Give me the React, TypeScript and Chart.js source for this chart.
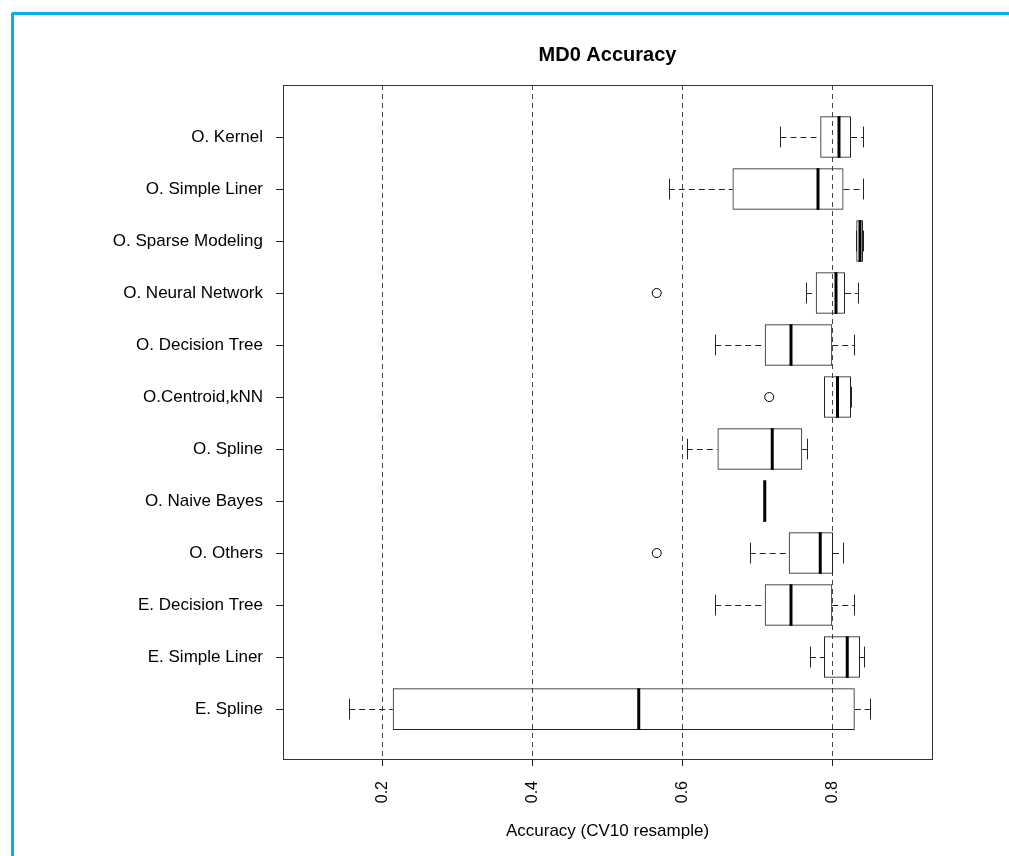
import React, { useEffect, useRef } from "react";
import { Chart, registerables } from "chart.js";

Chart.register(...registerables);

// ---- data ----
const chartTitle = "MD0 Accuracy";
const axisTitle = "Accuracy (CV10 resample)";
const categories = [
  "O. Kernel",
  "O. Simple Liner",
  "O. Sparse Modeling",
  "O. Neural Network",
  "O. Decision Tree",
  "O.Centroid,kNN",
  "O. Spline",
  "O. Naive Bayes",
  "O. Others",
  "E. Decision Tree",
  "E. Simple Liner",
  "E. Spline",
];
const whiskerLow = [0.730, 0.581, 0.831, 0.764, 0.643, 0.788, 0.605, 0.709, 0.689, 0.643, 0.769, 0.155];
const q1 = [0.783, 0.666, 0.831, 0.777, 0.709, 0.788, 0.646, 0.709, 0.741, 0.709, 0.788, 0.213];
const medians = [0.808, 0.780, 0.836, 0.804, 0.744, 0.806, 0.719, 0.709, 0.783, 0.744, 0.819, 0.541];
const q3 = [0.824, 0.814, 0.840, 0.816, 0.799, 0.824, 0.759, 0.709, 0.800, 0.799, 0.836, 0.829];
const whiskerHigh = [0.840, 0.840, 0.840, 0.833, 0.828, 0.824, 0.766, 0.709, 0.813, 0.828, 0.842, 0.849];
const outlierCategories = ["O. Neural Network", "O.Centroid,kNN", "O. Others"];
const outlierValues = [0.565, 0.715, 0.565];
const xTicks = [0.2, 0.4, 0.6, 0.8];
const xMin = 0.0667;
const xMax = 0.932;

const FONT = "'Liberation Sans', Arial, Helvetica, sans-serif";

export default function App() {
  const ref = useRef<HTMLCanvasElement>(null);

  useEffect(() => {
    const n = categories.length;
    const posOf = (i: number) => n - i;

    const boxData = categories.map((_, i) => ({ x: [q1[i], q3[i]], y: posOf(i) }));
    const outlierData = outlierCategories.map((c, k) => ({
      x: outlierValues[k],
      y: posOf(categories.indexOf(c)),
    }));

    const boxPlugin = {
      id: "boxWhiskers",
      beforeDatasetsDraw(chart: any) {
        const { ctx, chartArea } = chart;
        ctx.save();
        ctx.strokeStyle = "#333";
        ctx.lineWidth = 1;
        ctx.setLineDash([]);
        ctx.strokeRect(
          Math.round(chartArea.left) + 0.5,
          Math.round(chartArea.top) + 0.5,
          Math.round(chartArea.right - chartArea.left),
          Math.round(chartArea.bottom - chartArea.top)
        );
        ctx.restore();
      },
      afterDatasetsDraw(chart: any) {
        const { ctx } = chart;
        const xs = chart.scales.x;
        const ys = chart.scales.y;
        ctx.save();
        categories.forEach((_, i) => {
          const p = posOf(i);
          const yc = Math.round(ys.getPixelForValue(p)) + 0.5;
          const xLo = xs.getPixelForValue(whiskerLow[i]);
          const xQ1 = xs.getPixelForValue(q1[i]);
          const xQ3 = xs.getPixelForValue(q3[i]);
          const xHi = xs.getPixelForValue(whiskerHigh[i]);
          const capT = ys.getPixelForValue(p + 0.2);
          const capB = ys.getPixelForValue(p - 0.2);
          // dashed whiskers
          ctx.strokeStyle = "#222";
          ctx.lineWidth = 1;
          ctx.setLineDash([6, 4]);
          ctx.beginPath();
          if (xQ1 - xLo > 1) {
            ctx.moveTo(xLo, yc);
            ctx.lineTo(xQ1, yc);
          }
          if (xHi - xQ3 > 1) {
            ctx.moveTo(xQ3, yc);
            ctx.lineTo(xHi, yc);
          }
          ctx.stroke();
          // caps
          ctx.setLineDash([]);
          ctx.beginPath();
          const cl = Math.round(xLo) + 0.5;
          const ch = Math.round(xHi) + 0.5;
          ctx.moveTo(cl, capT);
          ctx.lineTo(cl, capB);
          ctx.moveTo(ch, capT);
          ctx.lineTo(ch, capB);
          ctx.stroke();
          // median
          const xm = xs.getPixelForValue(medians[i]);
          ctx.strokeStyle = "#000";
          ctx.lineWidth = 3;
          ctx.lineCap = "butt";
          ctx.beginPath();
          ctx.moveTo(xm, ys.getPixelForValue(p + 0.4));
          ctx.lineTo(xm, ys.getPixelForValue(p - 0.4));
          ctx.stroke();
        });
        ctx.restore();
      },
    };

    const chart = new Chart(ref.current as HTMLCanvasElement, {
      type: "bar",
      data: {
        datasets: [
          {
            type: "bar",
            indexAxis: "y",
            data: boxData as any,
            backgroundColor: "rgba(0,0,0,0)",
            borderColor: "#222",
            borderWidth: 1,
            borderSkipped: false,
            barPercentage: 0.8,
            categoryPercentage: 1,
            xAxisID: "x",
            yAxisID: "y",
          } as any,
          {
            type: "scatter",
            data: outlierData as any,
            pointStyle: "circle",
            pointRadius: 4.5,
            pointBorderWidth: 1,
            pointBorderColor: "#000",
            pointBackgroundColor: "#fff",
            xAxisID: "x",
            yAxisID: "y",
          } as any,
        ],
      },
      options: {
        responsive: false,
        animation: false,
        devicePixelRatio: 1,
        events: [],
        layout: { padding: { left: 0, right: 77, top: 0, bottom: 0 } },
        plugins: {
          legend: { display: false },
          tooltip: { enabled: false },
          title: {
            display: true,
            fullSize: false,
            text: chartTitle,
            color: "#000",
            font: { family: FONT, size: 20, weight: "bold", lineHeight: 1.2 },
            padding: { top: 43, bottom: 18 },
          },
        },
        scales: {
          x: {
            type: "linear",
            axis: "x",
            position: "bottom",
            offset: false,
            min: xMin,
            max: xMax,
            afterBuildTicks: (s: any) => {
              s.ticks = xTicks.map((v) => ({ value: v }));
            },
            afterFit: (s: any) => {
              s.height = 97;
            },
            ticks: {
              autoSkip: false,
              minRotation: 90,
              maxRotation: 90,
              padding: 15,
              color: "#000",
              font: { family: FONT, size: 16 },
              callback: (v: any) => Number(v).toFixed(1),
            },
            grid: {
              display: true,
              offset: false,
              drawOnChartArea: true,
              drawTicks: true,
              tickLength: 7,
              color: "#444",
              lineWidth: 1,
              tickColor: "#222",
              tickWidth: 1,
            },
            border: { display: false, dash: [5, 4] },
            title: {
              display: true,
              text: axisTitle,
              color: "#000",
              font: { family: FONT, size: 17, lineHeight: 1.2 },
              padding: { top: 14, bottom: 14 },
            },
          } as any,
          y: {
            type: "linear",
            axis: "y",
            position: "left",
            offset: false,
            min: 0.04,
            max: categories.length + 1,
            afterBuildTicks: (s: any) => {
              s.ticks = categories.map((_, i) => ({ value: categories.length - i }));
            },
            afterFit: (s: any) => {
              s.width = 283;
            },
            ticks: {
              autoSkip: false,
              padding: 13,
              color: "#000",
              font: { family: FONT, size: 17 },
              callback: (v: any) => categories[categories.length - Number(v)] ?? "",
            },
            grid: {
              display: true,
              offset: false,
              drawOnChartArea: false,
              drawTicks: true,
              tickLength: 7,
              tickColor: "#222",
              tickWidth: 1,
            },
            border: { display: false },
          } as any,
        },
      },
      plugins: [boxPlugin],
    });
    return () => chart.destroy();
  }, []);

  return (
    <div
      style={{
        position: "absolute",
        left: 0,
        top: 0,
        width: 1009,
        height: 856,
        background: "#fff",
        overflow: "hidden",
      }}
    >
      <div
        style={{
          position: "absolute",
          left: 11,
          top: 12,
          width: 1020,
          height: 870,
          borderTop: "3px solid #00b4e4",
          borderLeft: "3px solid #00b4e4",
          borderTopLeftRadius: 3,
          boxSizing: "border-box",
        }}
      />
      <canvas
        ref={ref}
        width={1009}
        height={856}
        style={{ position: "absolute", left: 0, top: 0, width: 1009, height: 856 }}
      />
    </div>
  );
}
